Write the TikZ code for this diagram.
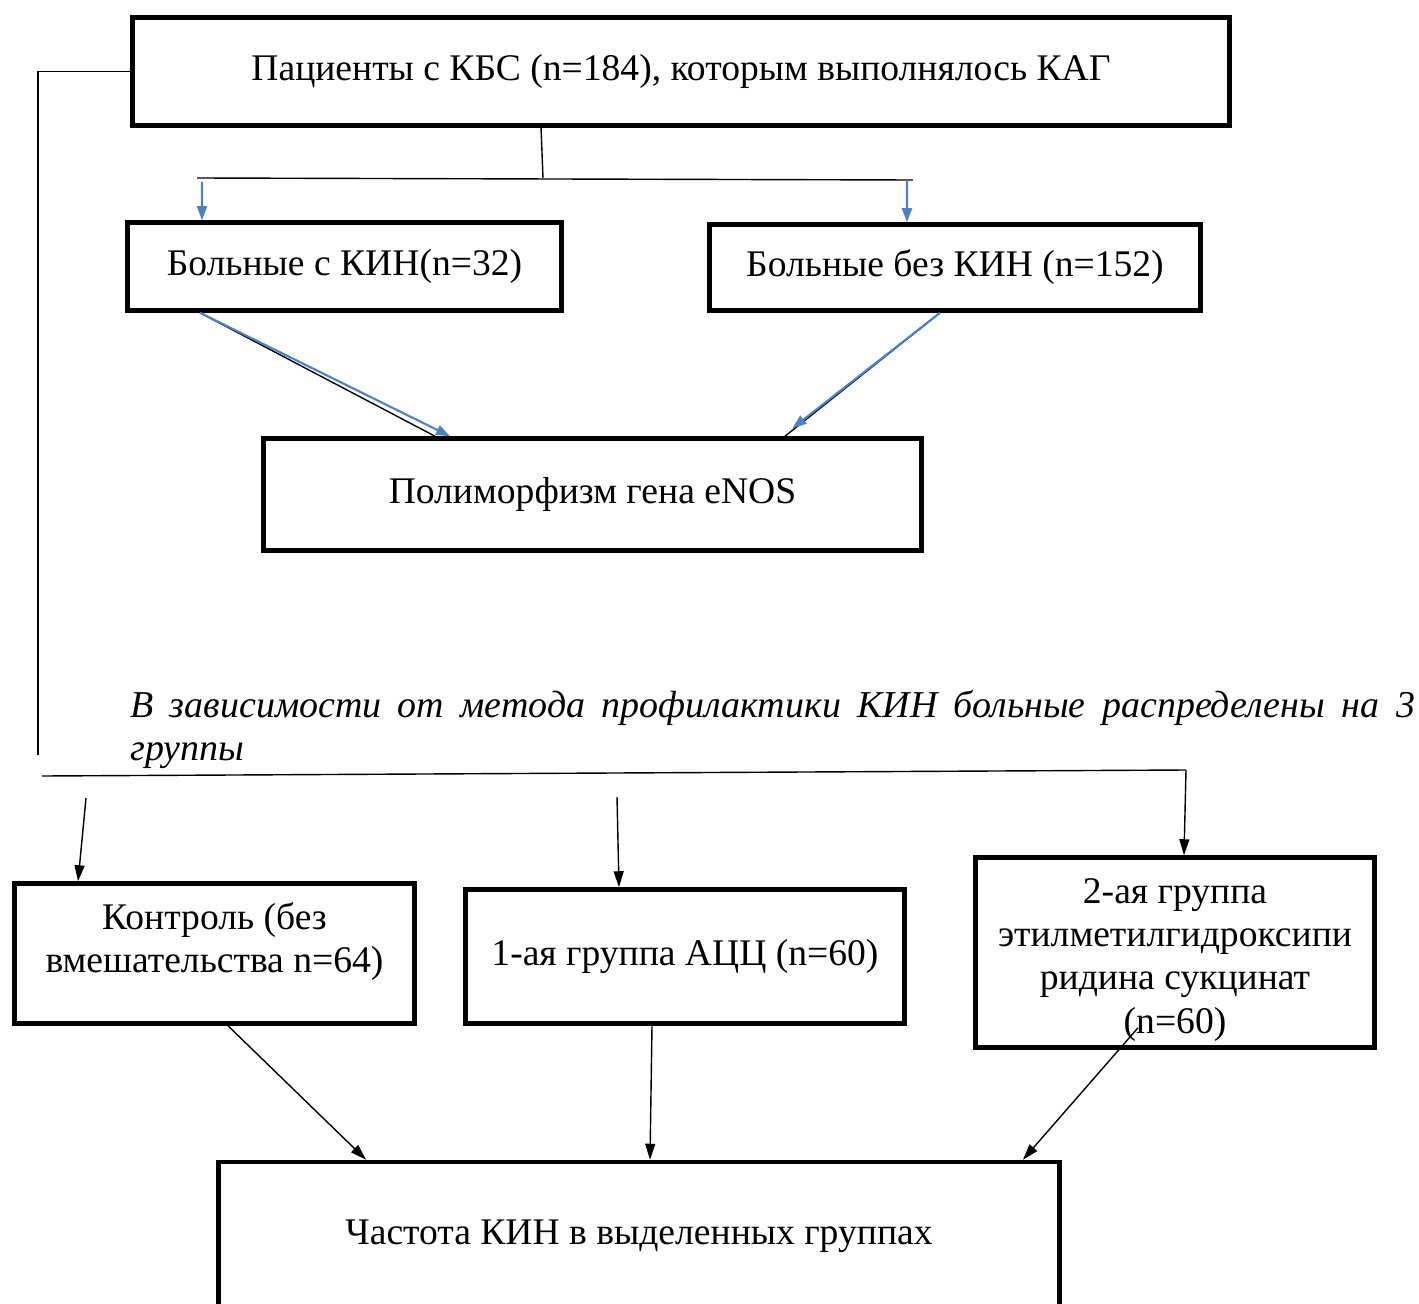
\documentclass[tikz,border=0pt]{standalone}
\usepackage{fontspec}
\setmainfont{Liberation Serif}
\usepackage{tikz}
\usetikzlibrary{positioning, arrows.meta}
\definecolor{wordblue}{RGB}{79,129,189}

\begin{document}
\begin{tikzpicture}[
    x=0.02cm, y=-0.02cm,
    box/.style={
        rectangle,
        draw=black,
        line width=2.6pt,
        inner sep=2pt,
        align=center,
        font=\fontsize{21.4}{24.5}\selectfont,
    },
    note/.style={
        inner sep=0pt,
        text width=25.7cm,
        align=justify,
        font=\fontsize{21.6}{24.5}\selectfont\itshape,
    },
    line/.style={line width=0.8pt, color=black},
    arr/.style={-{Triangle[length=0.32cm, width=0.2cm]}, line width=0.8pt, color=black},
    barr/.style={-{Triangle[length=0.28cm, width=0.2cm]}, line width=1.2pt, color=wordblue}
]
\clip (0,0) rectangle (1419,1304);

\node[box, minimum width=21.94cm, minimum height=2.16cm] (kbs) at (681,71.5)
  {Пациенты с КБС (n=184), которым выполнялось КАГ};
\node[box, minimum width=8.68cm, minimum height=1.76cm] (kin) at (344.5,266.5)
  {Больные с КИН(n=32)};
\node[box, minimum width=9.82cm, minimum height=1.72cm] (nokin) at (955,267.5)
  {Больные без КИН (n=152)};
\node[box, minimum width=13.16cm, minimum height=2.24cm] (enos) at (592.5,494.5)
  {Полиморфизм гена eNOS};

\node[note, anchor=base west] (distr) at (130,717)
  {В зависимости от метода профилактики КИН больные распределены на 3\linebreak группы};

\node[box, minimum width=8.0cm, minimum height=2.8cm] (ctrl) at (214.5,953.5)
  {Контроль (без\\ вмешательства n=64)\\[-0.24cm]};
\node[box, minimum width=8.78cm, minimum height=2.68cm] (acc) at (685,956.5)
  {1-ая группа АЦЦ (n=60)};
\node[box, minimum width=7.98cm, minimum height=3.8cm] (emhp) at (1175,952.5)
  {2-ая группа\\ этилметилгидроксипи\\ ридина сукцинат\\ (n=60)\\[-1.0cm]};
\node[box, minimum width=16.82cm, minimum height=2.96cm] (freq) at (639,1236)
  {Частота КИН в выделенных группах};

% free ends of the split lines
\coordinate (lftend) at (38,755);
\coordinate (tsplit) at (543,178);
\coordinate (tl) at (197,178);
\coordinate (tr) at (913,180);
\coordinate (tla) at (202,182);
\coordinate (tra) at (907,180);
\coordinate (bl) at (42,776);
\coordinate (br) at (1186,770);
\coordinate (ca) at (86,798);
\coordinate (aa) at (617,797);

% top part
\draw[line] (kbs.west) -| (lftend);
\draw[line] ([xshift=-2.8cm]kbs.south) -- (tsplit);
\draw[line] (tl) -- (tr);
\draw[barr] (tla) -- ([xshift=-2.85cm]kin.north);
\draw[barr] (tra) -- ([xshift=-0.96cm]nokin.north);

\draw[line] ([xshift=-2.89cm]kin.south) -- ([xshift=-3.15cm]enos.north);
\draw[barr] ([xshift=-2.89cm]kin.south) -- ([xshift=-2.85cm]enos.north);
\draw[line] ([xshift=-0.3cm]nokin.south) -- ([xshift=3.85cm]enos.north);
\draw[barr] ([xshift=-0.3cm]nokin.south) -- ([shift={(4.0cm,0.16cm)}]enos.north);

% bottom part
\draw[line] (bl) -- (br);
\draw[arr] (ca) -- ([xshift=-2.73cm]ctrl.north);
\draw[arr] (aa) -- ([xshift=-1.32cm]acc.north);
\draw[arr] (br) -- ([xshift=0.18cm]emhp.north);

\draw[arr] ([xshift=0.27cm]ctrl.south) -- ([xshift=-5.46cm]freq.north);
\draw[arr] ([xshift=-0.66cm]acc.south) -- ([xshift=0.22cm]freq.north);
\draw[arr] ([shift={(-0.74cm,0.44cm)}]emhp.south) -- ([xshift=7.68cm]freq.north);
\end{tikzpicture}
\end{document}
